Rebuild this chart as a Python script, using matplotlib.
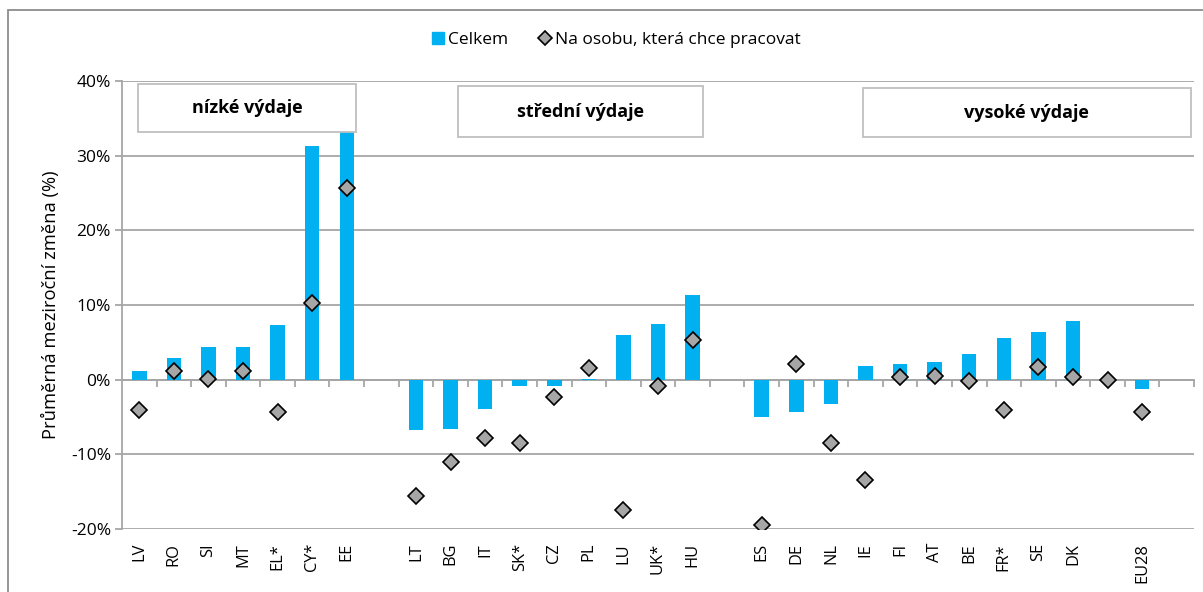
import numpy as np
import matplotlib
matplotlib.use("Agg")
import matplotlib.pyplot as plt
from matplotlib.patches import Rectangle
from matplotlib.lines import Line2D

plt.rcParams['font.family'] = ['Open Sans', 'DejaVu Sans']

# ---- data (None = empty slot) ----
categories = ["LV", "RO", "SI", "MT", "EL*", "CY*", "EE", "",
              "LT", "BG", "IT", "SK*", "CZ", "PL", "LU", "UK*", "HU", "",
              "ES", "DE", "NL", "IE", "FI", "AT", "BE", "FR*", "SE", "DK", "",
              "EU28", ""]
celkem = [1.1, 2.9, 4.4, 4.4, 7.3, 31.3, 36.0, None,
          -6.7, -6.6, -3.9, -0.9, -0.8, 0.1, 6.0, 7.5, 11.4, None,
          -5.0, -4.3, -3.2, 1.8, 2.1, 2.3, 3.4, 5.6, 6.4, 7.9, None,
          -1.2, None]
na_osobu = [-4.1, 1.2, 0.1, 1.2, -4.3, 10.3, 25.7, None,
            -15.6, -11.0, -7.8, -8.5, -2.3, 1.5, -17.5, -0.8, 5.3, None,
            -19.4, 2.1, -8.5, -13.5, 0.3, 0.5, -0.2, -4.1, 1.7, 0.3, 0.0,
            -4.3, None]
group_labels = ["nízké výdaje", "střední výdaje", "vysoké výdaje"]
y_ticks = [-20, -10, 0, 10, 20, 30, 40]

BLUE = "#00B0F0"
GRID = "#A6A6A6"

fig = plt.figure(figsize=(12.03, 5.92), dpi=100)
ax = fig.add_axes([122/1203, 1-529/592, (1194-122)/1203, (529-81)/592])

x = np.arange(len(categories))
cv = np.array([np.nan if v is None else v for v in celkem])
nv = np.array([np.nan if v is None else v for v in na_osobu])

ax.bar(x, cv, width=0.42, color=BLUE, zorder=2, label="Celkem")
ax.plot(x, nv, linestyle="none", marker="D", markersize=8.5,
        markerfacecolor="#A6A6A6", markeredgecolor="black", markeredgewidth=1.2,
        zorder=4, label="Na osobu, která chce pracovat")

ax.set_xlim(-0.5, len(categories) - 0.5)
ax.set_ylim(-20, 40)
ax.set_yticks(y_ticks)
ax.set_yticklabels([f"{t}%" for t in y_ticks])
ax.yaxis.grid(True, color=GRID, linewidth=1.3, zorder=0)
ax.set_axisbelow(True)
for s in ["top", "right", "bottom"]:
    ax.spines[s].set_visible(False)
ax.spines["left"].set_color(GRID)
ax.spines["left"].set_linewidth(1.3)
ax.tick_params(axis="y", length=5, color=GRID, width=1.3, labelsize=12.5, pad=3)

# category labels at bottom
ax.set_xticks(x)
ax.set_xticklabels(categories, rotation=90, fontsize=11.8, va="top", ha="center")
ax.tick_params(axis="x", length=0, pad=10)

# zero line with boundary ticks
sec = ax.secondary_xaxis((0 - (-20)) / 60)
sec.set_xticks(np.arange(len(categories)) + 0.5)
sec.set_xticklabels([])
sec.tick_params(axis="x", length=5, color=GRID, width=1.3, direction="out")
sec.spines["bottom"].set_color(GRID)
sec.spines["bottom"].set_linewidth(1.3)

ax.set_ylabel("Průměrná meziroční změna (%)", fontsize=13.2, labelpad=8)

# group boxes
boxes = [(-0.04, 6.26, 33.2, 39.6), (9.21, 16.29, 32.5, 39.3), (20.92, 30.4, 32.5, 39.0)]
for (x0, x1, y0, y1), lab in zip(boxes, group_labels):
    ax.add_patch(Rectangle((x0, y0), x1 - x0, y1 - y0, facecolor="white",
                           edgecolor="#BFBFBF", linewidth=1.3, zorder=5))
    ax.text((x0 + x1) / 2, (y0 + y1) / 2, lab, ha="center", va="center",
            fontsize=13, fontweight="bold", zorder=6)

# legend
handles = [Line2D([], [], linestyle="none", marker="s", markersize=9,
                  markerfacecolor=BLUE, markeredgecolor=BLUE),
           Line2D([], [], linestyle="none", marker="D", markersize=7.5,
                  markerfacecolor="#A6A6A6", markeredgecolor="black", markeredgewidth=1.2)]
fig.legend(handles, ["Celkem", "Na osobu, která chce pracovat"], loc="center",
           bbox_to_anchor=(615/1203, 1-40/592), ncol=2, frameon=False, fontsize=12.5,
           handletextpad=0.1, columnspacing=1.6, handlelength=1.0)

# outer chart border
fig.add_artist(Rectangle((8/1203, -0.05), 1.2, 1 - 10/592 + 0.05,
                         transform=fig.transFigure, fill=False,
                         edgecolor="#8C8C8C", linewidth=1.3))

fig.savefig("out.png", dpi=100)
